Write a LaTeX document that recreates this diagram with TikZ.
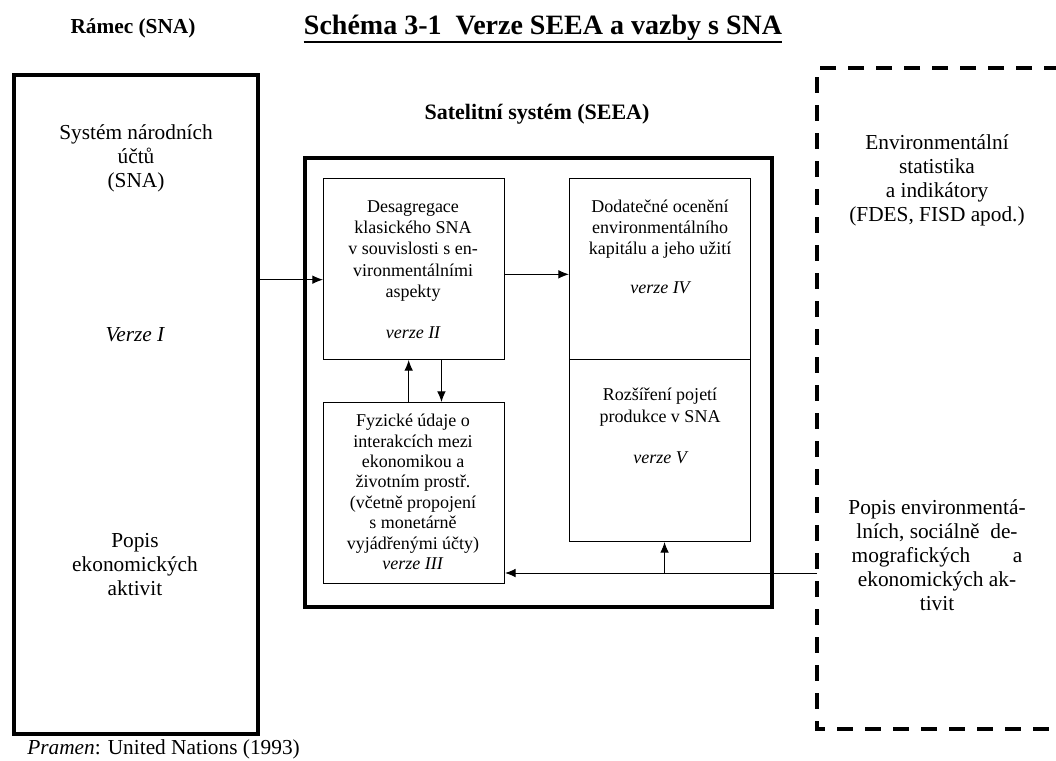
\documentclass[tikz,border=0pt]{standalone}
\usepackage{fontspec}
\setmainfont{Liberation Serif}
\usetikzlibrary{arrows.meta}
\tikzset{
    box/.style={draw, line width=.75pt, inner sep=0pt, anchor=north west},
    thickbox/.style={draw, line width=3pt, inner sep=0pt, anchor=north west},
    txt/.style={align=center, inner sep=0pt, font=\fontsize{16}{18}\selectfont},
    smalltxt/.style={align=center, inner sep=0pt, font=\fontsize{13.5}{16}\selectfont},
    arr/.style={-{Latex[length=8pt,width=6.5pt]}, line width=.75pt},
}
\begin{document}
\begin{tikzpicture}[x=.75pt, y=-.75pt]
    \useasboundingbox (0,0) rectangle (1056,760);
    %Nadpisy
    \node[txt, font=\fontsize{16}{18}\selectfont\bfseries] (ramec) at (133,28) {Rámec (SNA)};
    \node[txt, font=\fontsize{21}{24}\selectfont\bfseries] (nadpis) at (543,28) {Schéma 3-1\ \ Verze SEEA a vazby s SNA};
    \draw[line width=1.6pt] ([yshift=-1pt]nadpis.south west) -- ([yshift=-1pt]nadpis.south east);
    \node[txt, font=\fontsize{16.5}{18}\selectfont\bfseries] (satnadpis) at (537,114) {Satelitní systém (SEEA)};
    %Rámec SNA
    \node[thickbox, minimum width=244*.75pt, minimum height=659*.75pt] (sna) at (12,73) {};
    \node[txt] (snatext) at (136,158) {Systém národních\\účtů\\(SNA)};
    \node[txt, font=\fontsize{16}{18}\selectfont\itshape] (verzeI) at (135,335) {Verze I};
    \node[txt] (popisek) at (135,565) {Popis\\ekonomických\\aktivit};
    %Satelitní systém
    \node[thickbox, minimum width=467*.75pt, minimum height=449*.75pt] (seea) at (303,156) {};
    \node[box, minimum width=181*.75pt, minimum height=181*.75pt] (desag) at (323,178) {};
    \node[box, minimum width=181*.75pt, minimum height=181*.75pt] (dod) at (569,178) {};
    \node[box, minimum width=181*.75pt, minimum height=182*.75pt] (rozs) at (569,359) {};
    \node[box, minimum width=181*.75pt, minimum height=181*.75pt] (fyz) at (323,402) {};
    \node[smalltxt] (desagtext) at (413,251) {Desagregace\\klasického SNA\\v souvislosti s en-\\vironmentálními\\aspekty};
    \node[smalltxt, font=\fontsize{13.5}{16}\selectfont\itshape] (verzeII) at (413,333) {verze II};
    \node[smalltxt] (dodtext) at (660,229) {Dodatečné ocenění\\environmentálního\\kapitálu a jeho užití};
    \node[smalltxt, font=\fontsize{13.5}{16}\selectfont\itshape] (verzeIV) at (660,288) {verze IV};
    \node[smalltxt] (rozstext) at (660,407) {Rozšíření pojetí\\produkce v SNA};
    \node[smalltxt, font=\fontsize{13.5}{16}\selectfont\itshape] (verzeV) at (660,458) {verze V};
    \node[smalltxt, font=\fontsize{13.5}{15.3}\selectfont] (fyztext) at (413,492) {Fyzické údaje o\\interakcích mezi\\ekonomikou a\\životním prostř.\\(včetně propojení\\s monetárně\\vyjádřenými účty)\\\textit{verze III}};
    %Environmentální statistika
    \draw[line width=3pt, dash pattern=on 12pt off 9pt] (1060,68) -- (817,68) -- (817,729) -- (1060,729);
    \coordinate (env) at (817,573);
    \node[txt] (envtext) at (937,180) {Environmentální\\statistika\\a indikátory\\(FDES, FISD apod.)};
    \node[txt] (popisenv) at (937,555) {Popis environmentá-\\lních, sociálně\ \ de-\\mografických\hspace{2em}a\\ekonomických ak-\\tivit};
    %Vazby
    \draw[arr] ([yshift=-8pt]sna.east |- desag.west) -- ([yshift=-8pt]desag.west);
    \draw[arr] ([yshift=-4pt]desag.east) -- ([yshift=-4pt]desag.east -| dod.west);
    \draw[arr] ([xshift=-4pt]fyz.north) -- ([xshift=-4pt]desag.south);
    \draw[arr] ([xshift=20.6pt]desag.south) -- ([xshift=20.6pt]fyz.north);
    \draw[arr] (env) -- (fyz.east |- env);
    \draw[arr] ([xshift=3.4pt]rozs.south |- env) -- ([xshift=3.4pt]rozs.south);
    %Pramen
    \node[anchor=west, inner sep=0pt, font=\fontsize{16}{18}\selectfont] (pramen) at (27,749) {\textit{Pramen}: United Nations (1993)};
\end{tikzpicture}
\end{document}
